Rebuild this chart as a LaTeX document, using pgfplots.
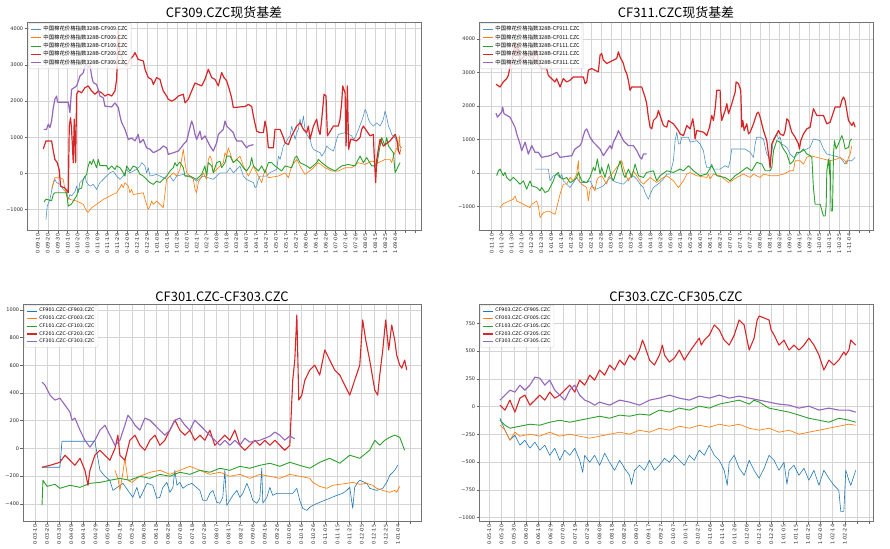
\documentclass[border=0pt]{standalone}
\usepackage{fontspec}
\setmainfont{DejaVu Sans}
\newfontfamily\cjk{Noto Sans CJK SC}
\usepackage{pgfplots}
\pgfplotsset{compat=1.18}
\definecolor{cb}{HTML}{1F77B4}
\definecolor{co}{HTML}{FF7F0E}
\definecolor{cg}{HTML}{2CA02C}
\definecolor{cr}{HTML}{D62728}
\definecolor{cp}{HTML}{9467BD}
\tikzset{
 sb/.style={color=cb!80!white, line width=0.6bp},
 so/.style={color=co, line width=0.65bp},
 sg/.style={color=cg, line width=0.9bp},
 sr/.style={color=cr, line width=1.2bp},
 sp/.style={color=cp, line width=1.2bp},
}
\pgfplotsset{
 panel/.style={scale only axis, anchor=north west,
  axis line style={draw=black!55, line width=0.6bp},
  grid=major, major grid style={draw=black!17, line width=0.5bp},
  tick align=outside, major tick length=2.5bp,
  tick style={draw=black!60, line width=0.5bp},
  xtick pos=left, ytick pos=left,
  xticklabel style={rotate=90, anchor=east, font=\fontsize{5}{5}\selectfont, inner sep=1bp, text=black!85},
  yticklabel style={font=\fontsize{5}{5}\selectfont, inner sep=1.2bp, text=black!85},
  legend style={at={(0.004,0.995)}, anchor=north west, draw=black!20, fill=white, fill opacity=0.8, text opacity=1, font=\cjk\fontsize{5.4}{5.6}\selectfont, inner xsep=1.5bp, inner ysep=1bp, row sep=-1.6bp, rounded corners=1bp},
  legend cell align=left,
  legend image code/.code={\draw[##1] (0bp,0bp) -- (10bp,0bp);},
  every axis plot/.append style={line join=round, no marks},
 },
}
\begin{document}
\begin{tikzpicture}
\useasboundingbox (0,0) rectangle (890bp,-549bp);
% ---------------- Panel 1 ----------------
\begin{axis}[panel, at={(27bp,-22bp)}, width=394bp, height=208bp,
 xmin=-1.1, xmax=38.6, ymin=-1560, ymax=4185,
 xtick={0,...,38},
 xticklabels={0-09-10,0-09-20,0-09-30,0-10-10,0-10-20,0-10-30,0-11-09,0-11-19,0-11-29,0-12-09,0-12-19,0-12-29,1-01-08,1-01-18,1-01-28,1-02-07,1-02-17,1-02-27,1-03-08,1-03-18,1-03-28,1-04-07,1-04-17,1-04-27,1-05-07,1-05-17,1-05-27,1-06-06,1-06-16,1-06-26,1-07-06,1-07-16,1-07-26,1-08-05,1-08-15,1-08-25,1-09-04,{},{}},
 ytick={-1000,0,1000,2000,3000,4000}, yticklabels={−1000,0,1000,2000,3000,4000}]
\addplot[sb] coordinates {(0.81,-1270)(0.94,-900)(1.21,-715)(1.48,-350)(1.71,-160)(1.88,-250)(2.22,-300)(2.55,-440)(2.89,-530)(3.06,-715)(3.23,-580)(3.39,-620)(3.73,-500)(3.90,-350)(4.07,-530)(4.23,-250)(4.57,-160)(4.74,-70)(4.91,-250)(5.24,-350)(5.58,-300)(5.91,-440)(6.25,-250)(6.59,-160)(6.92,-70)(7.26,20)(7.59,68)(7.93,-70)(8.27,-160)(8.60,-70)(8.94,115)(9.27,20)(9.95,115)(10.28,206)(10.45,300)(10.79,206)(10.95,20)(11.12,160)(11.29,-70)(11.96,-25)(12.97,-160)(13.31,-70)(13.64,-210)(13.98,-70)(14.65,-25)(15.49,-115)(15.99,-210)(16.67,-70)(17.67,-160)(18.35,20)(19.02,20)(19.36,160)(19.69,20)(20.36,206)(20.70,-70)(21.03,-160)(21.37,-210)(21.71,-250)(21.88,-390)(22.04,-350)(22.21,-160)(22.38,-70)(23.05,-70)(23.35,20)(24.06,115)(24.23,480)(24.40,390)(24.73,760)(25.07,900)(25.24,990)(25.40,1040)(25.57,1310)(25.74,1130)(25.91,940)(26.08,1130)(26.24,1220)(26.41,1500)(26.58,1310)(26.75,1590)(26.91,1220)(27.08,1080)(27.42,940)(27.59,760)(27.76,670)(28.09,620)(28.43,575)(28.60,480)(28.93,620)(29.10,760)(29.44,670)(29.77,620)(29.93,760)(30.11,940)(30.27,1080)(30.95,1130)(31.62,1040)(31.79,940)(31.96,990)(32.30,1220)(32.62,1450)(32.79,1590)(32.96,1770)(33.13,1680)(33.30,1500)(33.47,1400)(33.80,1310)(34.14,1400)(34.48,1310)(34.81,1500)(34.98,1730)(35.15,1550)(35.32,1310)(35.48,1220)(35.65,1080)(35.99,990)(36.16,900)(36.49,760)(36.66,710)};
\addlegendentry{中国棉花价格指数328B-CF909.CZC}
\addplot[so] coordinates {(1.38,-440)(1.55,-250)(1.71,-115)(2.22,-115)(2.55,-160)(2.72,-440)(2.89,-620)(3.23,-715)(3.90,-760)(4.57,-850)(4.74,-945)(4.91,-1040)(5.07,-1070)(5.41,-945)(5.91,-850)(6.59,-715)(7.26,-620)(7.93,-530)(8.27,-390)(8.43,-300)(8.60,-390)(8.77,-250)(9.11,-350)(9.27,-530)(9.44,-440)(9.61,-580)(10.62,-530)(10.79,-715)(10.95,-850)(11.12,-990)(11.29,-900)(11.46,-760)(11.63,-850)(11.96,-760)(12.30,-850)(12.63,-945)(12.97,-160)(13.31,-70)(13.64,20)(13.98,-70)(14.31,115)(14.48,390)(14.65,670)(14.82,300)(14.99,20)(15.32,-70)(15.66,-160)(15.83,-440)(15.99,-530)(16.16,-250)(16.50,-70)(16.67,20)(16.99,-160)(17.17,390)(17.34,480)(17.51,390)(17.67,20)(18.35,206)(18.68,300)(18.85,575)(19.02,480)(19.18,710)(19.36,575)(19.69,300)(20.03,390)(20.36,480)(20.70,206)(21.21,-70)(21.71,206)(22.21,-70)(22.55,-250)(22.88,115)(23.22,-115)(24.23,-70)(24.90,20)(25.24,-115)(25.57,206)(26.08,390)(26.41,206)(26.91,-25)(27.59,115)(28.26,300)(28.93,160)(29.60,68)(30.27,68)(30.95,160)(31.62,160)(32.28,300)(32.96,250)(33.63,345)(34.30,300)(34.98,390)(35.48,390)(35.65,300)(35.82,480)(36.16,710)(36.32,620)(36.42,1040)(36.55,575)};
\addlegendentry{中国棉花价格指数328B-CF009.CZC}
\addplot[sg] coordinates {(0.60,-790)(0.81,-710)(1.38,-750)(1.55,-580)(1.71,-530)(2.89,-530)(3.06,-900)(3.39,-840)(3.56,-760)(3.90,-620)(4.07,-440)(4.40,-400)(4.57,-160)(4.91,-20)(5.07,210)(5.24,340)(5.41,250)(5.58,390)(5.91,160)(6.08,390)(6.25,220)(6.92,220)(7.09,110)(7.43,210)(7.76,110)(7.93,210)(8.27,160)(8.60,20)(8.77,-70)(8.94,210)(9.27,70)(9.61,210)(9.95,160)(10.28,-20)(10.62,-70)(10.95,-160)(11.29,-250)(11.63,-300)(11.96,-210)(12.30,-250)(12.63,-160)(12.97,-70)(13.31,70)(13.64,160)(13.81,300)(13.98,210)(14.31,320)(14.65,160)(14.82,-70)(15.32,-70)(15.99,-160)(16.50,-20)(16.83,210)(16.99,-70)(17.17,300)(17.51,210)(17.67,20)(18.01,300)(18.35,340)(18.51,160)(18.85,300)(19.02,480)(19.36,480)(19.69,300)(20.03,390)(20.36,300)(20.70,160)(21.03,70)(21.37,210)(21.54,440)(21.71,210)(22.21,70)(22.55,210)(22.88,20)(23.22,300)(23.55,300)(23.89,210)(24.56,70)(24.90,210)(25.57,160)(25.90,440)(26.08,480)(26.41,300)(27.08,210)(27.42,140)(28.09,300)(28.26,390)(28.60,300)(29.27,160)(29.94,70)(30.61,210)(31.28,250)(31.95,210)(32.28,390)(32.46,480)(32.79,300)(33.13,440)(33.63,210)(34.14,210)(34.41,670)(34.65,990)(34.98,760)(35.15,990)(35.32,760)(35.82,570)(35.99,20)(36.32,210)(36.49,300)};
\addlegendentry{中国棉花价格指数328B-CF109.CZC}
\addplot[sr] coordinates {(0.54,680)(0.81,900)(1.38,900)(1.55,620)(1.71,390)(1.95,300)(2.15,100)(2.28,-350)(2.72,-400)(3.06,-530)(3.16,1310)(3.29,1540)(3.39,1220)(3.56,300)(3.66,1500)(3.80,300)(3.90,2190)(4.07,2280)(4.40,2230)(4.74,2370)(5.07,2420)(5.41,2280)(5.75,2190)(6.08,2280)(6.42,2230)(6.75,2140)(7.09,2190)(7.43,2140)(7.76,2280)(7.93,2600)(8.10,3950)(8.27,3290)(8.43,3240)(8.60,3060)(8.94,2970)(9.27,3150)(9.61,3250)(9.78,3340)(10.11,3150)(10.62,3110)(10.79,2880)(11.12,2650)(11.46,2600)(11.63,2460)(11.96,2650)(12.30,2600)(12.47,2420)(12.63,2280)(12.97,2140)(13.14,2050)(13.47,2000)(13.81,2050)(14.15,2140)(14.65,2190)(14.82,1950)(15.15,2050)(15.49,2280)(15.83,2500)(16.50,2420)(16.83,2600)(17.17,2880)(17.51,2650)(17.84,2600)(18.18,2420)(18.51,2790)(18.75,2650)(19.02,2560)(19.29,2320)(19.52,2090)(19.69,1820)(20.36,1840)(20.87,1850)(21.20,1910)(21.54,1850)(21.71,1590)(22.04,1170)(22.38,1130)(22.72,1130)(22.88,1450)(23.05,1220)(23.22,710)(23.72,710)(23.89,1220)(24.40,1220)(24.73,1000)(24.90,850)(25.24,800)(25.57,1040)(26.08,1310)(26.41,1400)(26.75,1220)(27.08,1130)(27.25,1310)(27.42,950)(27.76,1310)(28.09,1500)(28.26,1220)(28.43,1080)(28.60,1500)(28.83,2190)(29.03,2140)(29.17,1040)(29.77,1310)(30.27,1310)(30.44,1500)(30.61,1960)(30.71,2420)(30.95,2230)(31.05,760)(31.18,2420)(31.31,670)(31.52,950)(32.12,900)(32.46,1000)(32.62,1220)(32.79,1310)(33.47,1040)(33.80,1080)(33.87,575)(34.03,-250)(34.14,380)(34.30,670)(34.48,950)(34.81,760)(35.48,900)(35.99,1080)(36.16,950)(36.32,630)(36.49,530)};
\addlegendentry{中国棉花价格指数328B-CF209.CZC}
\addplot[sp] coordinates {(0.60,1220)(0.87,1220)(1.04,1360)(1.21,1270)(1.38,1450)(1.55,1820)(1.71,2050)(1.88,2140)(1.98,1970)(3.06,1970)(3.23,1680)(3.39,2320)(3.90,2420)(4.07,2550)(4.23,2690)(4.57,2780)(4.74,2970)(4.91,3010)(5.07,2920)(5.24,3010)(5.41,2690)(5.58,2510)(5.91,2460)(6.08,2320)(6.25,2140)(6.59,2090)(6.75,1860)(7.43,1840)(7.76,1950)(8.10,1820)(8.27,1590)(8.43,1410)(8.77,1220)(8.94,1080)(9.11,940)(9.44,980)(9.78,900)(10.11,1080)(10.28,850)(10.62,940)(10.95,710)(11.29,670)(11.63,575)(11.96,620)(12.30,670)(12.63,760)(12.97,710)(13.14,530)(14.15,620)(14.65,800)(14.99,900)(15.15,1080)(15.32,1270)(15.49,1450)(15.66,1310)(15.83,1080)(15.99,940)(16.33,1170)(16.50,940)(16.83,1040)(17.34,760)(17.67,620)(18.01,850)(18.18,1080)(18.68,1220)(18.85,1450)(19.02,1310)(19.69,1130)(19.86,990)(20.03,900)(20.53,900)(21.03,710)(21.20,760)(21.71,800)};
\addlegendentry{中国棉花价格指数328B-CF309.CZC}
\end{axis}
\node[font=\cjk\fontsize{13}{13}\selectfont] at (224bp,-13bp) {CF309.CZC现货基差};
% ---------------- Panel 2 ----------------
\begin{axis}[panel, at={(479bp,-22bp)}, width=394bp, height=208bp,
 xmin=-1.28, xmax=38.4, ymin=-1698, ymax=4509,
 xtick={0,...,38},
 xticklabels={0-11-10,0-11-20,0-11-30,0-12-10,0-12-20,0-12-30,1-01-09,1-01-19,1-01-29,1-02-08,1-02-18,1-02-28,1-03-09,1-03-19,1-03-29,1-04-08,1-04-18,1-04-28,1-05-08,1-05-18,1-05-28,1-06-07,1-06-17,1-06-27,1-07-07,1-07-17,1-07-27,1-08-06,1-08-16,1-08-26,1-09-05,1-09-15,1-09-25,1-10-05,1-10-15,1-10-25,1-11-04,{},{}},
 ytick={-1000,0,1000,2000,3000,4000}, yticklabels={−1000,0,1000,2000,3000,4000}]
\addplot[sb] coordinates {(4.37,120)(5.71,120)(5.87,-230)(6.21,-80)(6.55,-30)(6.88,-130)(7.05,-30)(7.21,-230)(7.89,-430)(8.23,-280)(8.56,-130)(8.89,-280)(9.57,-280)(9.90,-230)(10.24,-430)(10.57,-480)(11.24,-380)(11.92,-130)(12.25,-230)(12.59,-280)(13.26,-330)(13.60,-230)(13.93,-130)(14.27,-80)(14.61,-180)(14.94,-330)(15.28,-430)(15.44,-580)(15.61,-680)(15.78,-780)(15.95,-630)(16.28,-430)(16.95,-280)(17.29,-180)(17.63,-30)(17.96,-30)(18.13,170)(18.30,370)(18.47,970)(18.64,1220)(18.81,870)(18.97,870)(19.14,1070)(19.81,1070)(19.98,920)(20.65,970)(20.98,870)(21.32,670)(21.49,370)(21.66,170)(21.99,170)(22.16,270)(22.33,120)(23.00,120)(23.50,220)(23.84,170)(24.01,370)(24.18,720)(25.52,720)(26.02,620)(26.36,470)(26.53,870)(26.69,1070)(27.03,1070)(27.37,1020)(27.54,770)(27.70,570)(28.04,420)(28.21,620)(28.38,1020)(28.71,1170)(28.88,1020)(29.05,1070)(29.21,870)(29.72,770)(30.05,570)(30.39,470)(31.06,620)(31.73,720)(32.07,770)(32.40,1020)(33.07,970)(33.41,720)(33.75,570)(34.42,520)(35.09,470)(35.59,270)(35.76,370)(36.27,370)(36.60,470)};
\addlegendentry{中国棉花价格指数328B-CF911.CZC}
\addplot[so] coordinates {(0.84,-1030)(1.17,-910)(2.18,-780)(2.35,-680)(2.52,-830)(3.19,-930)(3.86,-1030)(4.03,-930)(4.53,-830)(4.70,-980)(4.87,-1330)(5.20,-1180)(5.71,-1130)(6.38,-1230)(6.55,-1030)(6.88,-630)(7.21,-330)(7.55,-330)(7.89,-130)(8.23,-230)(8.56,-30)(8.73,370)(8.83,-230)(9.06,-330)(9.57,-430)(9.73,-830)(9.90,-480)(10.07,-380)(10.40,-530)(10.57,-230)(10.74,-130)(11.08,-80)(11.58,-330)(11.75,-130)(12.09,-30)(12.59,170)(12.93,270)(13.10,370)(13.26,170)(13.60,-130)(13.77,-230)(14.27,70)(14.94,-230)(15.28,-330)(15.95,-130)(16.62,-280)(17.29,-130)(17.63,-80)(18.30,-230)(18.80,-430)(19.31,-230)(19.65,-30)(19.98,20)(20.65,-80)(21.66,-130)(21.83,-30)(21.99,-180)(22.33,-30)(23.00,-80)(23.85,-280)(24.18,-230)(24.68,-130)(25.35,-30)(26.02,-130)(26.36,-30)(27.03,-130)(27.37,-30)(28.04,-80)(28.71,-80)(29.38,-30)(30.05,70)(30.39,70)(30.56,370)(31.06,370)(31.40,270)(31.73,470)(32.07,520)(32.74,470)(33.41,420)(34.08,370)(34.76,420)(35.09,470)(35.59,370)(35.76,270)(35.93,470)(36.10,570)(36.27,820)};
\addlegendentry{中国棉花价格指数328B-CF011.CZC}
\addplot[sg] coordinates {(0.50,-80)(0.67,70)(0.84,120)(1.17,-80)(1.34,20)(1.51,-130)(1.84,-230)(2.18,-130)(2.52,-230)(2.85,-330)(3.19,-230)(3.52,-480)(3.86,-230)(4.03,-380)(4.53,-430)(4.87,-530)(5.03,-430)(5.37,-580)(5.71,-530)(6.04,-330)(6.21,-230)(6.38,-80)(6.71,20)(6.88,-130)(7.22,-180)(7.55,-130)(7.89,-280)(8.23,-230)(8.56,-130)(8.73,20)(9.06,-230)(9.57,-280)(9.90,-130)(10.24,170)(10.41,70)(10.64,420)(10.91,-30)(11.07,170)(11.41,-130)(11.75,270)(12.08,-130)(12.25,-230)(12.59,70)(12.93,370)(13.26,-30)(13.43,-130)(13.77,120)(14.10,-130)(14.44,270)(14.78,-80)(15.28,-130)(15.61,20)(16.28,70)(16.62,-230)(16.95,-80)(17.63,70)(18.30,20)(18.97,120)(19.31,70)(19.65,170)(19.81,220)(20.31,70)(20.98,-80)(21.64,-30)(22.16,220)(22.67,-80)(23.50,-130)(24.01,-230)(24.51,-80)(25.02,20)(25.69,170)(26.19,70)(26.69,320)(27.20,270)(27.54,70)(28.04,70)(28.21,170)(28.38,670)(28.71,970)(29.05,920)(29.38,720)(29.72,570)(30.05,270)(30.39,370)(30.72,620)(31.06,620)(31.40,720)(31.73,570)(32.07,520)(32.24,470)(32.40,-430)(32.57,-930)(33.07,-930)(33.41,-1280)(33.58,-1280)(33.68,-980)(33.75,70)(33.92,420)(34.02,-30)(34.08,370)(34.18,-1130)(34.32,-1130)(34.42,570)(34.52,970)(34.68,720)(34.92,870)(35.26,1120)(35.43,970)(35.59,720)(35.93,770)(36.10,970)(36.27,1020)};
\addlegendentry{中国棉花价格指数328B-CF111.CZC}
\addplot[sr] coordinates {(0.43,2650)(0.84,2570)(1.17,2720)(1.51,2820)(1.68,2920)(1.84,3170)(2.11,3420)(2.35,3900)(2.51,3570)(2.68,3820)(2.85,3370)(3.19,3470)(3.52,3570)(3.86,3470)(4.19,3420)(4.53,3670)(4.70,3270)(5.03,3120)(5.53,3120)(5.70,2920)(6.04,2820)(6.37,2720)(6.54,2820)(6.88,2570)(7.21,2820)(7.55,2720)(7.89,2770)(8.22,2870)(9.23,2870)(9.40,2670)(9.57,2720)(9.73,3070)(10.07,3120)(10.74,3020)(10.91,3520)(11.07,3570)(11.24,3370)(11.58,3270)(12.25,3370)(12.59,3420)(12.76,3620)(12.92,3470)(13.26,3270)(13.43,3070)(13.60,2970)(13.76,2770)(13.93,2470)(14.10,2570)(14.60,2570)(15.11,2570)(15.27,2420)(15.44,2270)(15.61,2070)(15.78,1670)(15.95,1370)(16.12,1320)(16.28,1570)(16.62,1670)(16.79,1870)(17.12,1570)(17.29,1420)(17.63,1370)(17.79,1570)(18.30,1470)(18.80,1270)(18.97,1170)(19.31,1120)(19.65,1420)(19.98,1320)(20.25,1620)(20.38,1370)(20.48,1020)(20.65,1270)(21.32,1220)(21.66,1120)(21.93,1370)(22.16,1720)(22.33,1570)(22.50,1920)(22.67,2470)(23.00,2470)(23.07,1870)(23.17,1570)(23.51,1870)(23.68,2070)(23.85,1770)(24.18,2070)(24.52,2420)(24.61,2720)(24.85,2670)(25.08,2470)(25.19,1370)(25.29,1570)(25.42,1270)(25.69,1470)(25.86,1170)(26.03,1220)(26.36,1470)(26.69,1770)(26.86,1820)(27.03,1670)(27.37,1270)(27.70,970)(27.87,570)(28.04,170)(28.21,870)(28.54,1070)(28.88,1270)(29.05,1170)(29.38,1120)(29.55,1270)(29.72,1620)(29.89,1570)(30.22,1220)(30.56,1070)(30.89,870)(30.99,720)(31.13,970)(31.40,1170)(31.73,1320)(32.07,1370)(32.24,1670)(32.40,1920)(32.74,1720)(33.41,1720)(33.75,1470)(34.08,1520)(34.42,1820)(34.59,1970)(35.09,1970)(35.26,2170)(35.43,2270)(35.59,2170)(35.76,1870)(35.93,1570)(36.27,1420)(36.43,1520)(36.60,1370)};
\addlegendentry{中国棉花价格指数328B-CF211.CZC}
\addplot[sp] coordinates {(0.43,1790)(0.57,1670)(1.00,1820)(1.10,1970)(1.24,1770)(1.84,1670)(2.18,1470)(2.35,1370)(2.52,1170)(2.85,870)(3.02,670)(3.36,920)(3.69,570)(4.03,820)(4.36,620)(4.70,620)(5.03,470)(5.87,520)(6.55,620)(6.88,470)(8.06,520)(8.39,720)(8.89,820)(9.06,920)(9.23,1120)(9.40,1270)(9.57,1320)(9.90,1070)(10.24,920)(10.91,720)(11.25,520)(11.58,670)(11.92,820)(12.09,720)(12.25,920)(12.59,1120)(12.76,1270)(12.93,1170)(13.26,970)(13.77,820)(14.27,820)(14.61,670)(14.94,470)(15.11,420)(15.28,570)(15.61,570)};
\addlegendentry{中国棉花价格指数328B-CF311.CZC}
\end{axis}
\node[font=\cjk\fontsize{13}{13}\selectfont] at (676bp,-13bp) {CF311.CZC现货基差};
% ---------------- Panel 3 ----------------
\begin{axis}[panel, at={(23bp,-304bp)}, width=398bp, height=217bp,
 xmin=-0.99, xmax=31.9, ymin=-524, ymax=1043,
 xtick={0,...,31},
 xticklabels={0-03-10,0-03-20,0-03-30,0-04-09,0-04-19,0-04-29,0-05-09,0-05-19,0-05-29,0-06-08,0-06-18,0-06-28,0-07-08,0-07-18,0-07-28,0-08-07,0-08-17,0-08-27,0-09-06,0-09-16,0-09-26,0-10-06,0-10-16,0-10-26,0-11-05,0-11-15,0-11-25,0-12-05,0-12-15,0-12-25,1-01-04,{}},
 ytick={-400,-200,0,200,400,600,800,1000}, yticklabels={−400,−200,0,200,400,600,800,1000},
 legend style={font=\fontsize{4.8}{5}\selectfont, row sep=-1.3bp}]
\addplot[color=cb, line width=0.6bp] coordinates {(0.58,-136)(2.06,-136)(2.23,52)(4.95,52)(5.37,-158)(5.78,-201)(6.19,-230)(6.44,-303)(7.27,-252)(8.09,-353)(8.42,-281)(8.67,-360)(9.25,-252)(9.74,-266)(10.07,-360)(10.32,-353)(10.57,-281)(10.90,-245)(11.15,-317)(11.40,-281)(11.56,-158)(11.73,-266)(11.97,-245)(12.22,-288)(12.55,-266)(12.96,-252)(13.63,-303)(13.87,-375)(14.20,-375)(14.45,-324)(14.70,-303)(15.03,-389)(15.28,-396)(15.52,-353)(15.69,-158)(15.85,-411)(16.10,-375)(16.35,-339)(16.68,-303)(16.93,-353)(17.18,-324)(17.51,-252)(17.75,-303)(18.00,-375)(18.33,-396)(18.58,-360)(18.74,-143)(18.83,-396)(19.16,-353)(19.41,-281)(19.65,-339)(19.98,-324)(21.30,-324)(21.64,-288)(21.88,-375)(22.13,-433)(22.46,-447)(22.71,-425)(22.96,-411)(23.53,-389)(24.36,-360)(24.94,-339)(25.43,-324)(25.76,-303)(26.01,-281)(26.26,-433)(26.42,-281)(26.67,-245)(26.84,-230)(27.42,-252)(27.66,-288)(28.24,-303)(28.74,-288)(29.07,-245)(29.32,-194)(29.73,-158)(29.97,-122)};
\addlegendentry{CF901.CZC-CF903.CZC}
\addplot[color=co, line width=0.7bp] coordinates {(6.61,-158)(6.85,-216)(7.02,-303)(7.27,-172)(7.43,-71)(7.68,-230)(8.01,-245)(8.67,-201)(9.50,-172)(10.32,-158)(11.15,-187)(11.97,-158)(12.80,-129)(13.63,-158)(14.45,-187)(15.28,-172)(16.10,-201)(16.93,-187)(17.75,-216)(18.58,-187)(19.41,-201)(20.23,-216)(21.06,-187)(21.88,-201)(22.71,-216)(22.96,-245)(23.53,-274)(24.11,-288)(24.61,-266)(25.19,-259)(25.76,-252)(26.26,-245)(26.84,-259)(27.42,-252)(27.91,-266)(28.24,-288)(28.74,-303)(29.32,-317)(29.73,-303)(29.89,-317)(30.14,-274)};
\addlegendentry{CF001.CZC-CF003.CZC}
\addplot[color=cg, line width=0.9bp] coordinates {(0.58,-411)(0.66,-230)(0.99,-274)(1.65,-259)(2.06,-288)(2.89,-266)(3.72,-281)(4.54,-252)(5.37,-245)(6.19,-230)(7.02,-216)(7.84,-230)(8.67,-201)(9.50,-216)(10.32,-187)(11.15,-201)(11.97,-172)(12.80,-187)(13.63,-158)(14.45,-172)(15.28,-143)(16.10,-158)(16.93,-129)(17.75,-143)(18.58,-122)(19.41,-107)(20.23,-129)(21.06,-100)(21.88,-122)(22.71,-143)(23.53,-100)(24.36,-71)(25.19,-107)(26.01,-49)(26.84,-71)(27.66,-13)(28.08,59)(28.49,23)(28.91,59)(29.32,81)(29.73,96)(30.14,81)(30.55,-13)};
\addlegendentry{CF101.CZC-CF103.CZC}
\addplot[color=cr, line width=1.1bp] coordinates {(0.58,-136)(1.24,-122)(2.06,-100)(2.48,-49)(2.89,-85)(3.30,-122)(3.72,-71)(4.13,-158)(4.38,-266)(4.54,-158)(4.95,-49)(5.37,-13)(5.78,-49)(6.19,-85)(6.61,0)(6.85,96)(7.02,-49)(7.43,-85)(7.84,59)(8.26,96)(8.67,23)(9.08,-13)(9.50,59)(9.91,96)(10.32,23)(10.73,59)(11.15,132)(11.56,204)(11.97,132)(12.39,96)(12.80,132)(13.21,59)(13.63,96)(14.04,59)(14.45,132)(14.86,23)(15.28,59)(15.69,96)(16.10,59)(16.52,132)(16.93,23)(17.34,-13)(17.75,23)(18.17,59)(18.58,23)(18.99,59)(19.41,23)(19.82,59)(20.23,23)(20.64,-13)(21.06,23)(21.30,493)(21.47,638)(21.64,964)(21.80,349)(22.05,385)(22.30,493)(22.71,566)(23.12,602)(23.53,530)(23.95,711)(24.36,638)(24.77,566)(25.19,530)(25.60,457)(26.01,385)(26.42,493)(26.84,602)(27.08,928)(27.33,783)(27.66,638)(28.08,421)(28.32,385)(28.49,530)(28.74,711)(28.98,928)(29.23,711)(29.48,891)(29.73,783)(29.89,674)(30.14,602)(30.31,580)(30.55,638)(30.72,566)};
\addlegendentry{CF201.CZC-CF203.CZC}
\addplot[color=cp, line width=1.1bp] coordinates {(0.58,479)(0.83,457)(1.24,385)(1.65,349)(2.06,363)(2.48,313)(2.89,262)(3.06,204)(3.30,219)(3.72,132)(4.13,59)(4.54,9)(4.95,59)(5.37,132)(5.78,168)(6.19,96)(6.61,23)(7.02,59)(7.43,168)(7.68,240)(8.01,204)(8.26,168)(8.67,132)(9.08,219)(9.50,204)(9.91,168)(10.32,132)(10.73,96)(11.15,132)(11.56,204)(11.97,219)(12.39,168)(12.80,132)(13.21,204)(13.63,168)(14.04,132)(14.45,96)(14.86,59)(15.28,23)(15.69,59)(16.10,23)(16.52,59)(16.93,23)(17.34,74)(17.75,45)(18.58,59)(19.41,88)(19.82,118)(20.23,96)(20.64,60)(21.06,90)(21.47,70)};
\addlegendentry{CF301.CZC-CF303.CZC}
\end{axis}
\node[font=\cjk\fontsize{13}{13}\selectfont] at (222bp,-297bp) {CF301.CZC-CF303.CZC};
% ---------------- Panel 4 ----------------
\begin{axis}[panel, at={(479bp,-304bp)}, width=394bp, height=217bp,
 xmin=-0.84, xmax=31.3, ymin=-1031, ymax=924,
 xtick={0,...,31},
 xticklabels={0-05-10,0-05-20,0-05-30,0-06-09,0-06-19,0-06-29,0-07-09,0-07-19,0-07-29,0-08-08,0-08-18,0-08-28,0-09-07,0-09-17,0-09-27,0-10-07,0-10-17,0-10-27,0-11-06,0-11-16,0-11-26,0-12-06,0-12-16,0-12-26,1-01-05,1-01-15,1-01-25,1-02-04,1-02-14,1-02-24,{},{}},
 ytick={-1000,-750,-500,-250,0,250,500,750}, yticklabels={−1000,−750,−500,−250,0,250,500,750},
 legend style={font=\fontsize{4.8}{5}\selectfont, row sep=-1.3bp}]
\addplot[color=cb, line width=0.6bp] coordinates {(0.87,-105)(1.28,-213)(1.68,-303)(2.09,-258)(2.50,-348)(2.90,-303)(3.31,-375)(3.72,-321)(4.12,-393)(4.53,-348)(4.93,-439)(5.34,-375)(5.75,-484)(6.15,-393)(6.56,-439)(6.97,-375)(7.37,-484)(7.62,-592)(7.78,-439)(8.19,-502)(8.59,-439)(9.00,-529)(9.41,-420)(9.81,-502)(10.22,-574)(10.63,-484)(11.03,-556)(11.44,-619)(11.60,-700)(11.85,-574)(12.25,-529)(12.66,-574)(13.07,-484)(13.47,-574)(13.88,-529)(14.29,-466)(14.69,-502)(15.10,-439)(15.50,-484)(15.91,-529)(16.32,-439)(16.72,-484)(17.13,-393)(17.54,-439)(17.94,-348)(18.35,-439)(18.76,-484)(19.16,-574)(19.41,-710)(19.57,-502)(19.98,-439)(20.38,-556)(20.79,-619)(21.20,-484)(21.60,-574)(22.01,-646)(22.42,-556)(22.82,-439)(23.23,-484)(23.63,-574)(24.04,-502)(24.28,-700)(24.45,-574)(24.85,-529)(25.26,-619)(25.67,-556)(26.07,-664)(26.48,-574)(26.89,-709)(27.29,-574)(27.70,-646)(28.11,-709)(28.51,-754)(28.67,-944)(28.92,-944)(29.08,-574)(29.33,-664)(29.49,-709)(29.89,-574)};
\addlegendentry{CF903.CZC-CF905.CZC}
\addplot[color=co, line width=0.7bp] coordinates {(0.87,-168)(1.28,-213)(1.68,-303)(2.09,-231)(2.50,-267)(3.31,-249)(4.12,-267)(4.93,-231)(5.75,-267)(6.56,-249)(7.37,-267)(8.19,-285)(9.00,-267)(9.81,-249)(10.63,-231)(11.44,-249)(12.25,-213)(13.07,-231)(13.88,-195)(14.69,-213)(15.50,-177)(16.32,-195)(17.13,-168)(17.94,-186)(18.76,-159)(19.57,-177)(20.38,-159)(21.20,-195)(22.01,-213)(22.82,-195)(23.63,-231)(24.45,-213)(25.26,-249)(26.07,-231)(26.89,-213)(27.70,-195)(28.51,-177)(29.33,-159)(29.89,-168)};
\addlegendentry{CF003.CZC-CF005.CZC}
\addplot[color=cg, line width=0.9bp] coordinates {(0.87,-123)(1.28,-168)(1.68,-195)(2.50,-177)(3.31,-159)(4.12,-168)(4.93,-141)(5.75,-123)(6.56,-141)(7.37,-123)(8.19,-105)(9.00,-87)(9.81,-105)(10.63,-77)(11.44,-87)(12.25,-68)(13.07,-77)(13.88,-32)(14.69,-50)(15.50,-14)(16.32,-32)(17.13,4)(17.94,-14)(18.76,22)(19.57,40)(20.38,58)(21.20,22)(21.60,58)(22.01,40)(22.82,-14)(23.63,-32)(24.45,-50)(25.26,-77)(26.07,-105)(26.89,-123)(27.70,-141)(28.51,-105)(29.33,-123)(29.89,-141)};
\addlegendentry{CF103.CZC-CF105.CZC}
\addplot[color=cr, line width=1.1bp] coordinates {(0.87,13)(1.28,-32)(1.68,58)(2.09,-50)(2.50,76)(2.90,103)(3.31,13)(3.72,58)(4.12,103)(4.53,58)(4.93,130)(5.34,76)(5.75,103)(6.15,148)(6.56,193)(6.97,130)(7.37,238)(7.78,193)(8.19,283)(8.59,238)(9.00,329)(9.41,283)(9.81,374)(10.22,329)(10.63,419)(11.03,374)(11.44,464)(11.85,419)(12.25,509)(12.50,599)(12.66,554)(13.07,419)(13.47,374)(13.88,464)(14.12,554)(14.29,464)(14.69,401)(15.10,437)(15.50,509)(15.91,419)(16.32,491)(16.72,554)(17.13,617)(17.29,554)(17.54,599)(17.94,644)(18.35,735)(18.76,690)(19.16,599)(19.57,554)(19.98,644)(20.38,780)(20.79,735)(21.03,599)(21.20,509)(21.60,617)(21.85,780)(22.01,816)(22.42,798)(22.82,780)(22.99,690)(23.23,644)(23.63,554)(24.04,599)(24.45,509)(24.85,554)(25.26,509)(25.67,554)(26.07,617)(26.48,554)(26.89,464)(27.29,329)(27.70,419)(28.11,374)(28.51,419)(28.92,491)(29.08,464)(29.33,509)(29.49,599)(29.89,554)};
\addlegendentry{CF203.CZC-CF205.CZC}
\addplot[color=cp, line width=1.1bp] coordinates {(0.87,58)(1.28,103)(1.68,148)(2.09,130)(2.50,193)(2.90,148)(3.31,193)(3.72,265)(4.12,256)(4.53,193)(4.93,238)(5.34,148)(5.75,103)(6.15,58)(6.56,148)(6.97,193)(7.37,103)(7.78,58)(8.19,40)(8.59,13)(9.00,40)(9.81,13)(10.63,58)(11.44,40)(12.25,13)(13.07,58)(13.88,76)(14.69,103)(15.50,76)(16.32,58)(17.13,94)(17.94,76)(18.76,103)(19.57,76)(20.38,94)(21.20,76)(22.01,58)(22.82,40)(23.63,22)(24.45,13)(25.26,-14)(26.07,4)(26.89,-32)(27.70,-14)(28.51,-32)(29.33,-32)(29.89,-50)};
\addlegendentry{CF303.CZC-CF305.CZC}
\end{axis}
\node[font=\cjk\fontsize{13}{13}\selectfont] at (676bp,-297bp) {CF303.CZC-CF305.CZC};
\end{tikzpicture}
\end{document}
